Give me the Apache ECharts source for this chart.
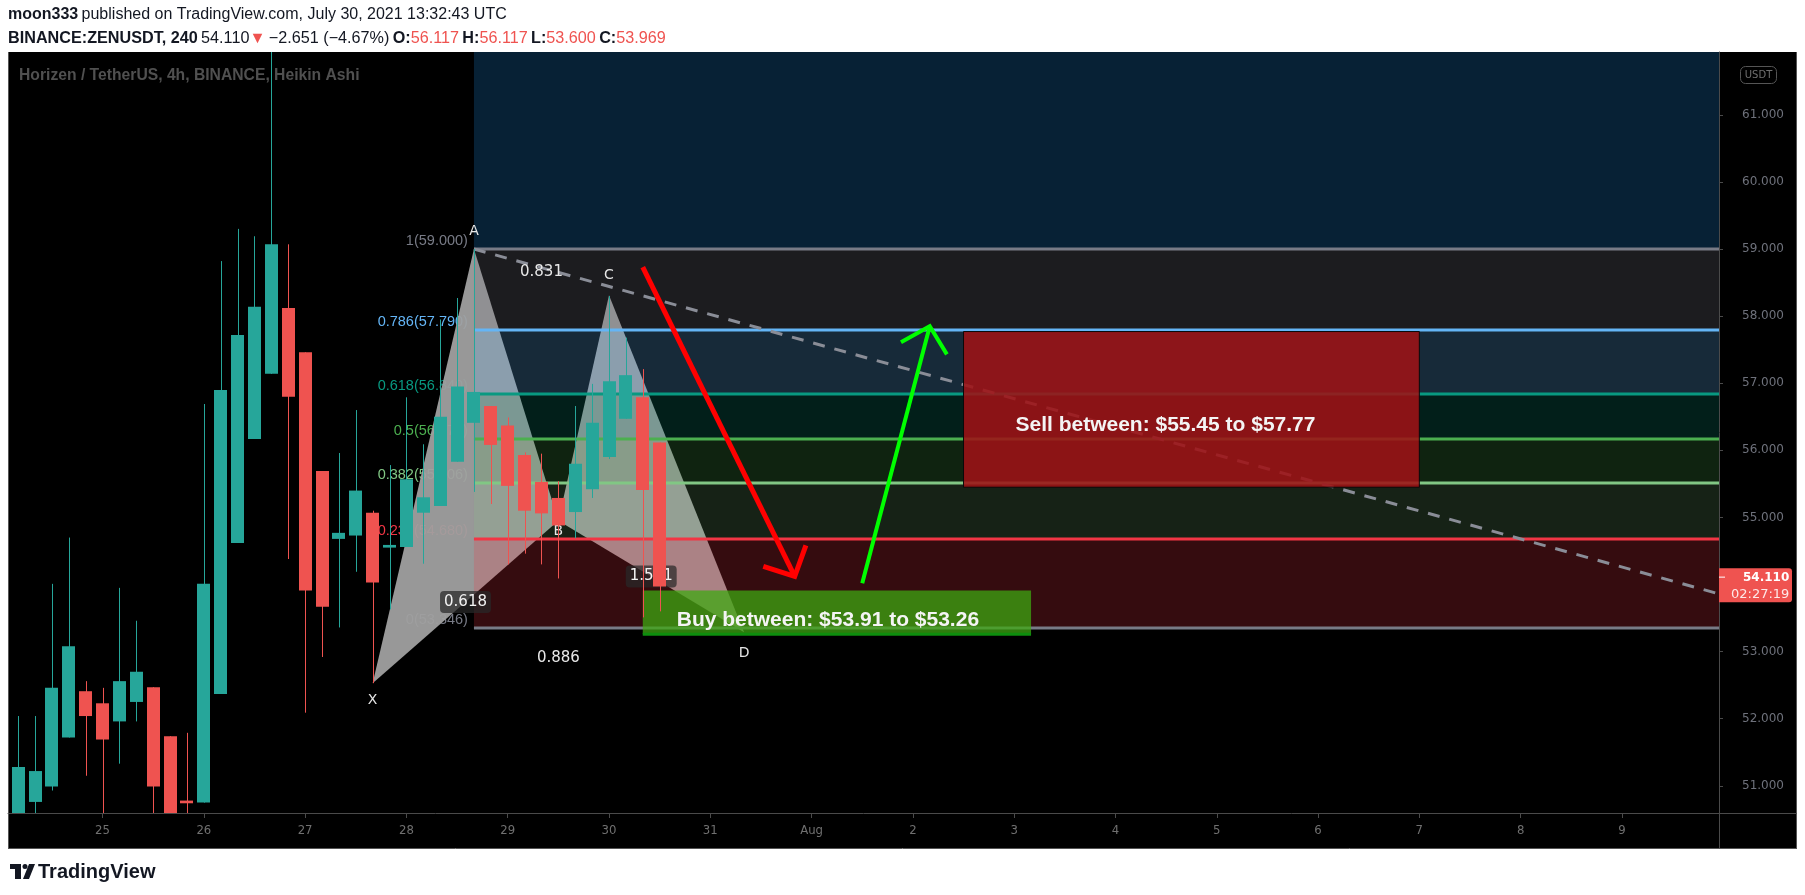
<!DOCTYPE html>
<html>
<head>
<meta charset="utf-8">
<title>ZENUSDT 4h Heikin Ashi</title>
<script src="https://cdn.jsdelivr.net/npm/echarts@6/dist/echarts.min.js"></script>
<style>
  html, body { margin: 0; padding: 0; background: #fff; }
  #chart { width: 1805px; height: 895px; }
</style>
</head>
<body>
<div id="chart"></div>
<script>
// Heikin Ashi 4h candles, index 0 = Jul 24 04:00 UTC, last = Jul 30 12:00
const candleOpen  = [50.24, 50.76, 50.99, 51.72, 52.41, 52.23, 51.96, 52.25, 52.47, 51.74,
                     50.78, 50.75, 52.37, 54.62, 56.17, 57.14, 58.12, 57.46, 55.69, 54.68,
                     54.73, 55.07, 54.55, 54.56, 55.07, 55.17, 55.83, 56.41, 56.66, 56.37,
                     55.93, 55.53, 55.29, 55.08, 55.42, 55.90, 56.47, 56.79, 56.117];
const candleHigh  = [52.04, 52.04, 54.01, 54.70, 52.56, 52.46, 53.95, 53.46, 52.47, 51.74,
                     51.79, 56.69, 58.82, 59.30, 59.19, 62.30, 59.07, 57.46, 55.69, 55.96,
                     56.60, 55.10, 55.78, 56.79, 56.09, 57.95, 58.27, 59.00, 56.66, 56.49,
                     55.97, 55.95, 55.54, 56.66, 56.99, 58.30, 57.68, 57.21, 56.117];
const candleLow   = [50.20, 50.45, 50.93, 51.72, 51.15, 50.35, 51.33, 51.96, 50.40, 49.70,
                     50.40, 50.75, 52.37, 54.62, 56.17, 57.14, 54.38, 52.09, 52.92, 53.36,
                     54.19, 52.53, 53.63, 54.56, 54.31, 55.17, 55.83, 55.38, 55.20, 54.30,
                     54.46, 54.30, 54.09, 54.69, 55.29, 55.87, 56.47, 53.51, 53.600];
const candleClose = [51.28, 51.22, 52.46, 53.08, 52.04, 51.69, 52.56, 52.70, 50.99, 49.82,
                     50.74, 54.01, 56.90, 57.72, 58.14, 59.07, 56.80, 53.91, 53.67, 54.77,
                     55.40, 54.03, 54.59, 55.57, 55.30, 56.50, 56.95, 56.87, 56.08, 55.47,
                     55.10, 55.06, 54.88, 55.80, 56.41, 57.03, 57.12, 55.41, 53.969];

// x axis ticks (candle index of each day's 00:00) and labels
const dayTickIndex = [5, 11, 17, 23, 29, 35, 41, 47, 53, 59, 65, 71, 77, 83, 89, 95];
const dayLabels = ['25', '26', '27', '28', '29', '30', '31', 'Aug', '2', '3', '4', '5', '6', '7', '8', '9'];
const priceTicks = [51, 52, 53, 54, 55, 56, 57, 58, 59, 60, 61];

// fib retracement
const fibHigh = 59.0, fibLow = 53.346, fibStart = 27;
const fibLevels = [1.618, 1, 0.786, 0.618, 0.5, 0.382, 0.236, 0];

// XABCD pattern
const patternNames = ['X', 'A', 'B', 'C', 'D'];
const patternIndex = [21, 27, 32, 35, 43];
const patternPrice = [52.53, 59.0, 54.95, 58.31, 53.29];
const ratioText = ['0.618', '0.886', '0.831', '1.521'];

// trend line, arrows, zones
const trendFrom = [27, 59.0], trendTo = [100.75, 53.86];
const redArrow = [[37, 58.73], [46, 54.12]];
const greenArrow = [[50, 54.02], [54, 57.85]];
const buyZone = [37, 60, 53.26, 53.91];
const sellZone = [56, 83, 55.45, 57.77];
const buyText = 'Buy between: $53.91 to $53.26';
const sellText = 'Sell between: $55.45 to $57.77';
const lastPrice = 54.110, countdown = '02:27:19';

const X_MIN = -0.6, X_MAX = 100.75, Y_MIN = 50.595, Y_MAX = 61.936;
const UP = '#26a69a', DOWN = '#ef5350';
const LABEL_FONT = "'DejaVu Sans', sans-serif";

const fibBandColors = ['rgba(33,150,243,0.22)', 'rgba(120,123,134,0.23)', 'rgba(100,181,246,0.23)',
  'rgba(8,153,129,0.2)', 'rgba(76,175,80,0.2)', 'rgba(129,199,132,0.17)', 'rgba(242,54,69,0.22)'];
const fibLineColors = ['#2196f3', '#787b86', '#64b5f6', '#089981', '#4caf50', '#81c784', '#f23645', '#787b86'];

const fibPrice = lv => fibLow + lv * (fibHigh - fibLow);

const chart = echarts.init(document.getElementById('chart'));

function renderCandle(params, api) {
  const i = api.value(0), o = api.value(1), c = api.value(2), l = api.value(3), h = api.value(4);
  const top = api.coord([i, Math.max(o, c)]);
  const bot = api.coord([i, Math.min(o, c)]);
  const hi = api.coord([i, h]);
  const lo = api.coord([i, l]);
  const w = Math.round(api.size([1, 0])[0] * 0.77);
  const color = c >= o ? UP : DOWN;
  const x = Math.round(top[0]) + 0.5;
  return {
    type: 'group',
    children: [
      { type: 'line', shape: { x1: x, y1: hi[1], x2: x, y2: lo[1] }, style: { stroke: color, lineWidth: 1 } },
      { type: 'rect', shape: { x: Math.round(top[0] - w / 2), y: top[1], width: w, height: Math.max(bot[1] - top[1], 2) },
        style: { fill: color } }
    ]
  };
}

function renderFibBands(params, api) {
  const cs = params.coordSys;
  const x0 = api.coord([fibStart, fibHigh])[0];
  const x1 = cs.x + cs.width;
  const children = [];
  for (let k = 0; k < fibLevels.length - 1; k++) {
    const yA = api.coord([fibStart, fibPrice(fibLevels[k])])[1];
    const yB = api.coord([fibStart, fibPrice(fibLevels[k + 1])])[1];
    children.push({ type: 'rect', shape: { x: x0, y: yA, width: x1 - x0, height: yB - yA }, style: { fill: fibBandColors[k] } });
  }
  return { type: 'group', children };
}

function renderFibLines(params, api) {
  const cs = params.coordSys;
  const x0 = api.coord([fibStart, fibHigh])[0];
  const x1 = cs.x + cs.width;
  const children = [];
  fibLevels.forEach((lv, k) => {
    if (lv > 1) return;
    const y = Math.round(api.coord([fibStart, fibPrice(lv)])[1]);
    children.push({ type: 'line', shape: { x1: x0, y1: y, x2: x1, y2: y }, style: { stroke: fibLineColors[k], lineWidth: 3 } });
  });
  return { type: 'group', children };
}

function renderFibLabels(params, api) {
  const x0 = api.coord([fibStart, fibHigh])[0];
  const children = [];
  fibLevels.forEach((lv, k) => {
    if (lv > 1) return;
    const y = api.coord([fibStart, fibPrice(lv)])[1];
    children.push({ type: 'text', style: { text: lv + '(' + fibPrice(lv).toFixed(3) + ')', x: x0 - 6, y: y - 8,
      align: 'right', verticalAlign: 'middle', font: "14.5px 'Liberation Sans', sans-serif", fill: fibLineColors[k] } });
  });
  return { type: 'group', children };
}

function renderPattern(params, api) {
  const p = patternIndex.map((ix, k) => api.coord([ix, patternPrice[k]]));
  const fill = 'rgba(160,160,160,0.95)';
  return {
    type: 'group',
    children: [
      { type: 'polygon', shape: { points: [p[0], p[1], p[2]] }, style: { fill } },
      { type: 'polygon', shape: { points: [p[2], p[3], p[4]] }, style: { fill } }
    ]
  };
}

function renderRatios(params, api) {
  const p = patternIndex.map((ix, k) => api.coord([ix, patternPrice[k]]));
  const mid = (a, b) => [(a[0] + b[0]) / 2, (a[1] + b[1]) / 2];
  const spots = [mid(p[0], p[2]), mid(p[0], p[4]), mid(p[1], p[3]), mid(p[2], p[4])];
  const boxed = [true, false, false, true];
  return {
    type: 'group',
    children: spots.map((s, k) => ({
      type: 'text',
      style: {
        text: ratioText[k], x: s[0], y: s[1], align: 'center', verticalAlign: 'middle',
        font: '15px ' + LABEL_FONT, fill: boxed[k] ? '#f2f2f2' : '#e8e8e8',
        backgroundColor: boxed[k] ? 'rgba(40,40,40,0.72)' : null,
        padding: boxed[k] ? [4, 4, 3, 4] : 0, borderRadius: 4
      }
    }))
  };
}

function renderPointNames(params, api) {
  const offs = [17, -18, 11, -20, 21];
  return {
    type: 'group',
    children: patternIndex.map((ix, k) => {
      const c = api.coord([ix, patternPrice[k]]);
      return { type: 'text', style: { text: patternNames[k], x: c[0], y: c[1] + offs[k], align: 'center',
        verticalAlign: 'middle', font: '14px ' + LABEL_FONT, fill: '#e6e6e6' } };
    })
  };
}

function renderTrend(params, api) {
  const a = api.coord(trendFrom), b = api.coord(trendTo);
  return { type: 'line', shape: { x1: a[0], y1: a[1], x2: b[0], y2: b[1] },
    style: { stroke: '#8a8d97', lineWidth: 3, lineDash: [12, 10] } };
}

function arrowShape(api, pts, color, width) {
  const a = api.coord(pts[0]), b = api.coord(pts[1]);
  const ang = Math.atan2(a[1] - b[1], a[0] - b[0]);
  const len = 33, spread = 46 * Math.PI / 180;
  const h1 = [b[0] + len * Math.cos(ang + spread), b[1] + len * Math.sin(ang + spread)];
  const h2 = [b[0] + len * Math.cos(ang - spread), b[1] + len * Math.sin(ang - spread)];
  return [
    { type: 'line', shape: { x1: a[0], y1: a[1], x2: b[0], y2: b[1] }, style: { stroke: color, lineWidth: width } },
    { type: 'polyline', shape: { points: [h1, b, h2] }, style: { stroke: color, lineWidth: width, fill: null, lineJoin: 'miter' } }
  ];
}

function renderArrows(params, api) {
  return { type: 'group', children: arrowShape(api, redArrow, '#ff0000', 5).concat(arrowShape(api, greenArrow, '#00ff00', 4)) };
}

function renderZones(params, api) {
  const s0 = api.coord([sellZone[0], sellZone[3]]), s1 = api.coord([sellZone[1], sellZone[2]]);
  const b0 = api.coord([buyZone[0], buyZone[3]]), b1 = api.coord([buyZone[1], buyZone[2]]);
  return {
    type: 'group',
    children: [
      { type: 'rect', shape: { x: s0[0], y: s0[1], width: s1[0] - s0[0], height: s1[1] - s0[1] },
        style: { fill: 'rgba(158,18,22,0.88)', stroke: '#0a0a0a', lineWidth: 1 } },
      { type: 'rect', shape: { x: b0[0], y: b0[1], width: b1[0] - b0[0], height: b1[1] - b0[1] },
        style: { fill: 'rgba(62,168,18,0.74)' } },
      { type: 'line', shape: { x1: b0[0], y1: b1[1], x2: b1[0], y2: b1[1] }, style: { stroke: '#0e8e0e', lineWidth: 3 } }
    ]
  };
}

function renderZoneText(params, api) {
  const s = api.coord([(sellZone[0] + sellZone[1]) / 2, (sellZone[2] + sellZone[3]) / 2]);
  const b = api.coord([(buyZone[0] + buyZone[1]) / 2, (buyZone[2] + buyZone[3]) / 2]);
  const font = "bold 21px 'Liberation Sans', sans-serif";
  return {
    type: 'group',
    children: [
      { type: 'text', style: { text: sellText, x: s[0] - 26, y: s[1] + 16, align: 'center', verticalAlign: 'middle', font, fill: '#f4f4f4' } },
      { type: 'text', style: { text: buyText, x: b[0] - 9, y: b[1] + 8, align: 'center', verticalAlign: 'middle', font, fill: '#f4f4f4' } }
    ]
  };
}

function renderPriceTag(params, api) {
  const cs = params.coordSys;
  const x = cs.x + cs.width;
  const y = api.coord([0, lastPrice])[1];
  return {
    type: 'group',
    children: [
      { type: 'rect', shape: { x: x, y: y - 9, width: 73, height: 34, r: [0, 3, 3, 0] }, style: { fill: '#ef5350' } },
      { type: 'line', shape: { x1: x, y1: y, x2: x + 6, y2: y }, style: { stroke: '#fff', lineWidth: 1 } },
      { type: 'text', style: { text: lastPrice.toFixed(3), x: x + 24, y: y + 1, verticalAlign: 'middle',
        font: 'bold 12px ' + LABEL_FONT, fill: '#ffffff' } },
      { type: 'text', style: { text: countdown, x: x + 12, y: y + 17, verticalAlign: 'middle',
        font: '13px ' + LABEL_FONT, fill: '#fde8e8' } }
    ]
  };
}

const one = [[0, 0]];
const custom = (name, fn, z, clip, data) => ({
  type: 'custom', name, renderItem: fn, z, clip: clip, silent: true,
  data: data || one, encode: { x: 0, y: 1 }
});

const header2 = '{b|BINANCE:ZENUSDT, 240} {n|54.110}{r|▼} {n|−2.651 (−4.67%)} {b|O:}{r|56.117} {b|H:}{r|56.117} {b|L:}{r|53.600} {b|C:}{r|53.969}';

chart.setOption({
  animation: false,
  backgroundColor: '#ffffff',
  grid: { left: 8, right: 86, top: 52, bottom: 82, show: false },
  xAxis: {
    type: 'value', min: X_MIN, max: X_MAX,
    axisLine: { show: true, onZero: false, lineStyle: { color: '#4a4a4a' } },
    axisTick: { show: true, length: 5, customValues: dayTickIndex, lineStyle: { color: '#4a4a4a' } },
    axisLabel: {
      customValues: dayTickIndex, margin: 11, color: '#707070', fontSize: 13, fontFamily: 'DejaVu Sans Condensed',
      formatter: v => dayLabels[dayTickIndex.indexOf(Math.round(v))] || ''
    },
    splitLine: { show: false }
  },
  yAxis: {
    type: 'value', position: 'right', min: Y_MIN, max: Y_MAX,
    axisLine: { show: true, onZero: false, lineStyle: { color: '#4a4a4a' } },
    axisTick: { show: true, length: 4, customValues: priceTicks, lineStyle: { color: '#4a4a4a' } },
    axisLabel: {
      customValues: priceTicks, margin: 23, color: '#6e717b', fontSize: 12, fontFamily: 'DejaVu Sans',
      formatter: v => v.toFixed(3)
    },
    splitLine: { show: false }
  },
  graphic: [
    { type: 'rect', z: -10, shape: { x: 8, y: 52, width: 1789, height: 796 }, style: { fill: '#000' } },
    { type: 'line', z: 1, shape: { x1: 8.5, y1: 52, x2: 8.5, y2: 848 }, style: { stroke: '#555', lineWidth: 1 } },
    { type: 'line', z: 1, shape: { x1: 8, y1: 848.5, x2: 1797, y2: 848.5 }, style: { stroke: '#555', lineWidth: 1 } },
    { type: 'line', z: 1, shape: { x1: 1796.5, y1: 52, x2: 1796.5, y2: 848 }, style: { stroke: '#555', lineWidth: 1 } },
    { type: 'line', z: 1, shape: { x1: 1719, y1: 813.5, x2: 1797, y2: 813.5 }, style: { stroke: '#4a4a4a', lineWidth: 1 } },
    { type: 'line', z: 1, shape: { x1: 1719.5, y1: 813, x2: 1719.5, y2: 848 }, style: { stroke: '#4a4a4a', lineWidth: 1 } },
    { type: 'text', z: 1, x: 19, y: 76, style: { text: 'Horizen / TetherUS, 4h, BINANCE, Heikin Ashi',
      font: "bold 15.7px 'Liberation Sans', sans-serif", fill: '#505050', verticalAlign: 'middle' } },
    { type: 'rect', z: 1, shape: { x: 1740.5, y: 66.5, width: 36, height: 17, r: 5 }, style: { fill: null, stroke: '#555', lineWidth: 1 } },
    { type: 'text', z: 1, x: 1758.5, y: 75.5, style: { text: 'USDT', font: "10px 'DejaVu Sans'", fill: '#707070',
      align: 'center', verticalAlign: 'middle' } },
    { type: 'text', z: 1, x: 8, y: 15, style: { text: '{b|moon333} {n|published on TradingView.com, July 30, 2021 13:32:43 UTC}',
      verticalAlign: 'middle',
      rich: { b: { font: "bold 16px 'Liberation Sans'", fill: '#131722' }, n: { font: "16px 'Liberation Sans'", fill: '#131722' } } } },
    { type: 'text', z: 1, x: 8, y: 39, style: { text: header2, verticalAlign: 'middle',
      rich: { b: { font: "bold 16.2px 'Liberation Sans'", fill: '#131722' }, n: { font: "16.2px 'Liberation Sans'", fill: '#131722' },
              r: { font: "16.2px 'Liberation Sans'", fill: '#ef5350' } } } },
    // TradingView logo
    { type: 'rect', z: 1, shape: { x: 10, y: 864, width: 11, height: 5 }, style: { fill: '#131722' } },
    { type: 'rect', z: 1, shape: { x: 15, y: 864, width: 6, height: 15 }, style: { fill: '#131722' } },
    { type: 'circle', z: 1, shape: { cx: 25, cy: 866.5, r: 2.5 }, style: { fill: '#131722' } },
    { type: 'polygon', z: 1, shape: { points: [[29, 864], [35, 864], [29, 879], [23, 879]] }, style: { fill: '#131722' } },
    { type: 'text', z: 1, x: 38, y: 872, style: { text: 'TradingView', font: "bold 20px 'Liberation Sans Narrow', 'Liberation Sans'",
      fill: '#131722', verticalAlign: 'middle' } }
  ],
  series: [
    custom('fibLabels', renderFibLabels, 1, true),
    custom('pattern', renderPattern, 2, true),
    custom('fibBands', renderFibBands, 3, true),
    custom('fibLines', renderFibLines, 4, true),
    custom('trend', renderTrend, 4, true),
    custom('zones', renderZones, 5, true),
    custom('ratios', renderRatios, 5, true),
    custom('pointNames', renderPointNames, 5, true),
    custom('candles', renderCandle, 6, true,
      candleOpen.map((o, i) => [i, o, candleClose[i], candleLow[i], candleHigh[i]])),
    custom('zoneText', renderZoneText, 7, true),
    custom('arrows', renderArrows, 8, true),
    custom('priceTag', renderPriceTag, 9, false)
  ]
});
</script>
</body>
</html>
